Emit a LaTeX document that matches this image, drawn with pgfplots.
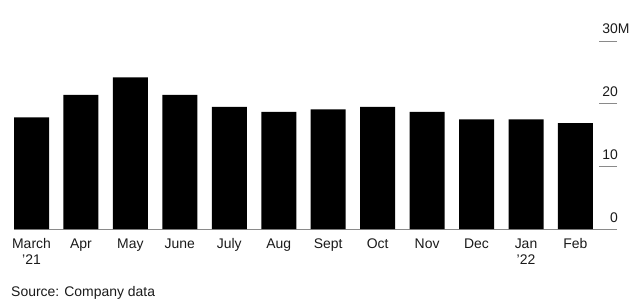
\documentclass[border=0pt]{standalone}
\usepackage{pgfplots}
\pgfplotsset{compat=1.18}
\usepackage{fontspec}
\setmainfont{Liberation Sans}
\definecolor{axgray}{HTML}{8A8A8A}
\definecolor{txt}{HTML}{1A1A1A}
\begin{document}
\begin{tikzpicture}
\path[use as bounding box] (0,0) rectangle (637bp,301bp);
\begin{axis}[
  at={(14bp,72bp)}, anchor=south west,
  scale only axis, width=603bp, height=188bp,
  xmin=-0.354, xmax=11.84, ymin=0, ymax=30,
  ybar, bar width=35bp,
  axis x line*=bottom, axis y line*=right,
  x axis line style={-, draw=axgray, line width=0.9bp},
  y axis line style={draw=none},
  xtick={0,...,11},
  xticklabels={\strut March\\{'21},\strut Apr,\strut May,\strut June,\strut July,\strut Aug,\strut Sept,\strut Oct,\strut Nov,\strut Dec,\strut Jan\\{'22},\strut Feb},
  xtick style={draw=none},
  xtick align=inside,
  xticklabel style={align=center, font=\fontsize{14}{17}\selectfont, text=txt, inner sep=0pt, anchor=north, yshift=-7bp},
  ytick={0,10,20,30},
  yticklabels={0,10,20,30\rlap{M}},
  ytick align=inside,
  major tick length=18bp,
  ytick style={draw=axgray, line width=0.9bp},
  yticklabel style={anchor=base east, inner sep=0pt, xshift=1bp, yshift=7bp, font=\fontsize{14}{17}\selectfont, text=txt},
  clip=false,
]
\addplot[fill=black, draw=none] coordinates {
(0,17.8) (1,21.4) (2,24.2) (3,21.4) (4,19.5) (5,18.7)
(6,19.1) (7,19.5) (8,18.7) (9,17.5) (10,17.5) (11,16.9)};
\end{axis}
\node[anchor=base west, inner sep=0pt, font=\fontsize{14}{17}\selectfont, text=txt] at (11bp,5bp) {Source: Company data};
\end{tikzpicture}
\end{document}
